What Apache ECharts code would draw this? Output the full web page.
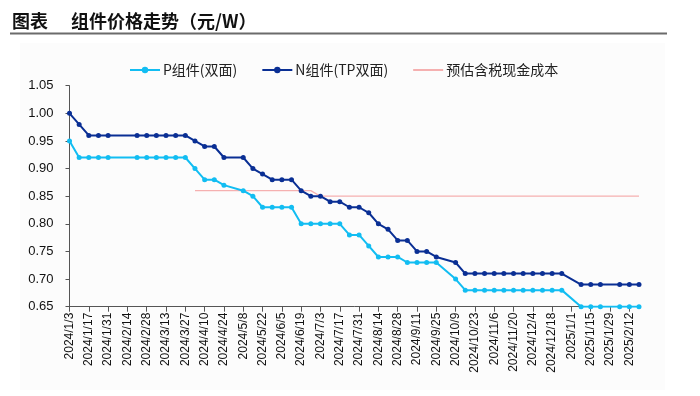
<!DOCTYPE html>
<html>
<head>
<meta charset="utf-8">
<script src="https://cdn.jsdelivr.net/npm/echarts@6/dist/echarts.min.js"></script>
<style>
  html, body { margin: 0; padding: 0; background: #fff; }
  #main { width: 700px; height: 396px; }
</style>
</head>
<body>
<div id="main"></div>
<script>
// 周度日期
var dates = [
  '2024/1/3', '2024/1/10', '2024/1/17', '2024/1/24', '2024/1/31', '2024/2/7', '2024/2/14', '2024/2/21',
  '2024/2/28', '2024/3/6', '2024/3/13', '2024/3/20', '2024/3/27', '2024/4/3', '2024/4/10', '2024/4/17',
  '2024/4/24', '2024/5/1', '2024/5/8', '2024/5/15', '2024/5/22', '2024/5/29', '2024/6/5', '2024/6/12',
  '2024/6/19', '2024/6/26', '2024/7/3', '2024/7/10', '2024/7/17', '2024/7/24', '2024/7/31', '2024/8/7',
  '2024/8/14', '2024/8/21', '2024/8/28', '2024/9/4', '2024/9/11', '2024/9/18', '2024/9/25', '2024/10/2',
  '2024/10/9', '2024/10/16', '2024/10/23', '2024/10/30', '2024/11/6', '2024/11/13', '2024/11/20', '2024/11/27',
  '2024/12/4', '2024/12/11', '2024/12/18', '2024/12/25', '2025/1/1', '2025/1/8', '2025/1/15', '2025/1/22',
  '2025/1/29', '2025/2/5', '2025/2/12', '2025/2/19'
]
// P组件(双面)
var pPrice = [
  0.95, 0.92, 0.92, 0.92, 0.92, null, null, 0.92,
  0.92, 0.92, 0.92, 0.92, 0.92, 0.90, 0.88, 0.88,
  0.87, null, 0.86, 0.85, 0.83, 0.83, 0.83, 0.83,
  0.80, 0.80, 0.80, 0.80, 0.80, 0.78, 0.78, 0.76,
  0.74, 0.74, 0.74, 0.73, 0.73, 0.73, 0.73, null,
  0.70, 0.68, 0.68, 0.68, 0.68, 0.68, 0.68, 0.68,
  0.68, 0.68, 0.68, 0.68, null, 0.65, 0.65, 0.65,
  null, 0.65, 0.65, 0.65
]
// N组件(TP双面)
var nPrice = [
  1.00, 0.98, 0.96, 0.96, 0.96, null, null, 0.96,
  0.96, 0.96, 0.96, 0.96, 0.96, 0.95, 0.94, 0.94,
  0.92, null, 0.92, 0.90, 0.89, 0.88, 0.88, 0.88,
  0.86, 0.85, 0.85, 0.84, 0.84, 0.83, 0.83, 0.82,
  0.80, 0.79, 0.77, 0.77, 0.75, 0.75, 0.74, null,
  0.73, 0.71, 0.71, 0.71, 0.71, 0.71, 0.71, 0.71,
  0.71, 0.71, 0.71, 0.71, null, 0.69, 0.69, 0.69,
  null, 0.69, 0.69, 0.69
]
// 预估含税现金成本
var costLine = [
  null, null, null, null, null, null, null, null,
  null, null, null, null, null, 0.86, 0.86, 0.86,
  0.86, 0.86, 0.86, 0.86, 0.86, 0.86, 0.86, 0.86,
  0.86, 0.86, 0.85, 0.85, 0.85, 0.85, 0.85, 0.85,
  0.85, 0.85, 0.85, 0.85, 0.85, 0.85, 0.85, 0.85,
  0.85, 0.85, 0.85, 0.85, 0.85, 0.85, 0.85, 0.85,
  0.85, 0.85, 0.85, 0.85, 0.85, 0.85, 0.85, 0.85,
  0.85, 0.85, 0.85, 0.85
]
var yTicks = [0.65, 1.05, 0.05] // min, max, interval

var font = '"Liberation Sans", "Noto Sans CJK SC", sans-serif'
var cjk = '"Noto Sans CJK SC", sans-serif'

var myChart = echarts.init(document.getElementById('main'))
myChart.setOption({
  animation: false,
  backgroundColor: '#fff',
  graphic: [
    { type: 'rect', z: -10, shape: { x: 20, y: 43, width: 645, height: 347 }, style: { fill: '#fcfcfc' } },
    { type: 'text', left: 12, top: 12, style: { text: '图表', font: 'bold 18px ' + cjk, fill: '#111' } },
    { type: 'text', left: 71, top: 12, style: { text: '组件价格走势（元/W）', font: 'bold 18px ' + cjk, fill: '#111' } },
    { type: 'line', shape: { x1: 10, y1: 33.5, x2: 667, y2: 33.5 }, style: { stroke: '#6b6b6b', lineWidth: 2 } }
  ],
  legend: {
    top: 58,
    left: 124,
    itemWidth: 30,
    itemHeight: 8,
    itemGap: 24,
    textStyle: { fontFamily: cjk, fontSize: 14, color: '#222', padding: [0, 0, 0, -2] },
    data: [
      'P组件(双面)',
      'N组件(TP双面)',
      { name: '预估含税现金成本', itemStyle: { opacity: 0 } }
    ]
  },
  grid: { left: 69.5, right: 61, top: 85.7, bottom: 89.3, containLabel: false },
  xAxis: {
    type: 'category',
    data: dates,
    boundaryGap: false,
    axisLine: { lineStyle: { color: '#555', width: 1 } },
    axisTick: { interval: 1, length: 5, lineStyle: { color: '#555' } },
    axisLabel: { interval: 1, rotate: 90, fontSize: 12, fontFamily: font, color: '#111', margin: 6 }
  },
  yAxis: {
    type: 'value',
    min: yTicks[0],
    max: yTicks[1],
    interval: yTicks[2],
    axisLine: { show: true, lineStyle: { color: '#555', width: 1 } },
    axisTick: { show: true, length: 4, lineStyle: { color: '#555' } },
    splitLine: { show: false },
    axisLabel: {
      fontSize: 13, fontFamily: font, color: '#111', margin: 16,
      formatter: function (v) { return v.toFixed(2) }
    }
  },
  series: [
    {
      name: 'P组件(双面)', type: 'line', data: pPrice, connectNulls: true,
      symbol: 'circle', symbolSize: 5,
      lineStyle: { color: '#12BDF2', width: 2 }, itemStyle: { color: '#12BDF2' }, z: 3
    },
    {
      name: 'N组件(TP双面)', type: 'line', data: nPrice, connectNulls: true,
      symbol: 'circle', symbolSize: 5,
      lineStyle: { color: '#0A2F94', width: 2 }, itemStyle: { color: '#0A2F94' }, z: 4
    },
    {
      name: '预估含税现金成本', type: 'line', data: costLine, connectNulls: true,
      symbol: 'none',
      lineStyle: { color: '#F5B0B0', width: 1.3 }, itemStyle: { color: '#F5B0B0' }, z: 2
    }
  ]
})
</script>
</body>
</html>
